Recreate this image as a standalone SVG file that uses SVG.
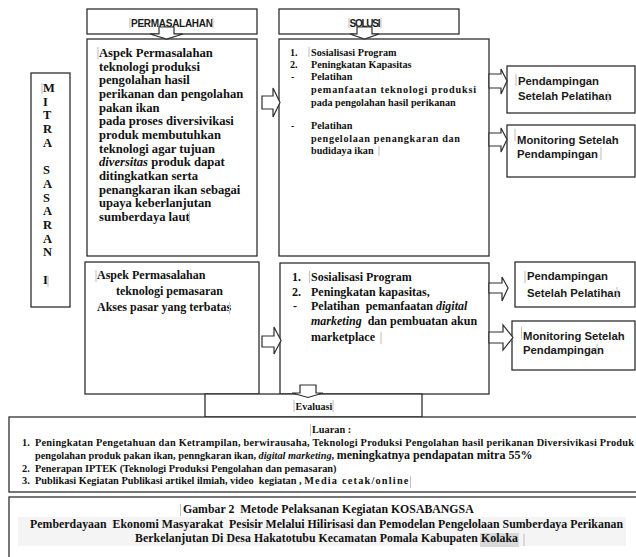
<svg xmlns="http://www.w3.org/2000/svg" width="636" height="557" viewBox="0 0 636 557">
<style>
.box{fill:#fff;stroke:#2e2e2e;stroke-width:1.3}
.arr{fill:#fff;stroke:#2e2e2e;stroke-width:1.2;stroke-linejoin:miter}
.sf{font-family:"Liberation Serif","Times New Roman",serif;font-weight:bold;fill:#111;white-space:pre}
.ss{font-family:"Liberation Sans",Arial,sans-serif;font-weight:bold;fill:#1a1a1a;white-space:pre}
.mk{stroke:#c4c4c4;stroke-width:1.1}
.it{font-style:italic}
</style>
<rect width="636" height="557" fill="#fff"/>

<g id="header-permasalahan">
<rect class="box" x="87" y="9" width="170" height="25"/>
<text class="ss" x="131" y="27" font-size="10" textLength="82">PERMASALAHAN</text>
</g>
<g id="header-solusi">
<rect class="box" x="279" y="9" width="180" height="25"/>
<text class="ss" x="349.5" y="27" font-size="10" textLength="31">SOLUSI</text>
</g>

<g id="mitra-sasaran">
<rect class="box" x="31" y="73" width="39" height="234"/>
<text class="sf" font-size="12.5">
<tspan x="43" y="92">M</tspan><tspan x="43" y="105.7">I</tspan><tspan x="43" y="119.4">T</tspan><tspan x="43" y="133.1">R</tspan><tspan x="43" y="146.8">A</tspan><tspan x="43" y="174.2">S</tspan><tspan x="43" y="187.9">A</tspan><tspan x="43" y="201.6">S</tspan><tspan x="43" y="215.3">A</tspan><tspan x="43" y="229">R</tspan><tspan x="43" y="242.7">A</tspan><tspan x="43" y="256.4">N</tspan><tspan x="43" y="283.8">I</tspan>
</text>
</g>

<g id="masalah-1">
<rect class="box" x="87" y="39" width="170" height="217"/>
<text class="sf" font-size="12.6">
<tspan x="99" y="57">Aspek Permasalahan</tspan>
<tspan x="99" y="70.7">teknologi produksi</tspan>
<tspan x="99" y="84.3">pengolahan hasil</tspan>
<tspan x="99" y="98">perikanan dan pengolahan</tspan>
<tspan x="99" y="111.7">pakan ikan</tspan>
<tspan x="99" y="125.3">pada proses diversivikasi</tspan>
<tspan x="99" y="139">produk membutuhkan</tspan>
<tspan x="99" y="152.7">teknologi agar tujuan</tspan>
<tspan x="99" y="166.3"><tspan class="it">diversitas</tspan> produk dapat</tspan>
<tspan x="99" y="180">ditingkatkan serta</tspan>
<tspan x="99" y="193.7">penangkaran ikan sebagai</tspan>
<tspan x="99" y="207.3">upaya keberlanjutan</tspan>
<tspan x="99" y="221">sumberdaya laut</tspan>
</text>
</g>

<g id="masalah-2">
<rect class="box" x="85" y="262" width="174" height="132"/>
<text class="sf" font-size="12">
<tspan x="97" y="279">Aspek Permasalahan</tspan>
<tspan x="116" y="295">teknologi pemasaran</tspan>
<tspan x="97" y="311">Akses pasar yang terbatas</tspan>
</text>
</g>

<g id="solusi-1">
<rect class="box" x="279" y="39" width="210" height="217"/>
<text class="sf" font-size="10.2">
<tspan x="290" y="56">1.</tspan><tspan x="311" y="56">Sosialisasi Program</tspan>
<tspan x="290" y="68">2.</tspan><tspan x="311" y="68">Peningkatan Kapasitas</tspan>
<tspan x="291" y="80">-</tspan><tspan x="311" y="80">Pelatihan</tspan>
<tspan x="311" y="92.5" textLength="165">pemanfaatan teknologi produksi</tspan>
<tspan x="311" y="105.5">pada pengolahan hasil perikanan</tspan>
<tspan x="291" y="129">-</tspan><tspan x="311" y="129">Pelatihan</tspan>
<tspan x="311" y="141.5" textLength="149">pengelolaan penangkaran dan</tspan>
<tspan x="311" y="154">budidaya ikan</tspan>
</text>
</g>

<g id="solusi-2">
<rect class="box" x="280" y="263" width="209" height="131"/>
<text class="sf" font-size="12">
<tspan x="292" y="281">1.</tspan><tspan x="311" y="281">Sosialisasi Program</tspan>
<tspan x="292" y="295.5">2.</tspan><tspan x="311" y="295.5">Peningkatan kapasitas,</tspan>
<tspan x="293" y="309.5">-</tspan><tspan x="311" y="309.5">Pelatihan  pemanfaatan <tspan class="it">digital</tspan></tspan>
<tspan x="311" y="324.5"><tspan class="it">marketing</tspan>  dan pembuatan akun</tspan>
<tspan x="311" y="341">marketplace</tspan>
</text>
</g>

<g id="pendampingan-1">
<rect class="box" x="507" y="66" width="128" height="47"/>
<text class="ss" font-size="11.3"><tspan x="518" y="85">Pendampingan</tspan><tspan x="518" y="99.5">Setelah Pelatihan</tspan></text>
</g>
<g id="monitoring-1">
<rect class="box" x="507" y="125" width="128" height="52"/>
<text class="ss" font-size="11.3"><tspan x="517" y="143.5">Monitoring Setelah</tspan><tspan x="517" y="158">Pendampingan</tspan></text>
</g>
<g id="pendampingan-2">
<rect class="box" x="515" y="262" width="120" height="45"/>
<text class="ss" font-size="11.3"><tspan x="527" y="280">Pendampingan</tspan><tspan x="527" y="296.5">Setelah Pelatihan</tspan></text>
</g>
<g id="monitoring-2">
<rect class="box" x="512" y="321" width="123" height="49"/>
<text class="ss" font-size="11.3"><tspan x="523" y="339.5">Monitoring Setelah</tspan><tspan x="523" y="354">Pendampingan</tspan></text>
</g>

<g id="evaluasi">
<rect class="box" x="205" y="394" width="217" height="23"/>
<text class="sf" x="295.5" y="410" font-size="10">Evaluasi</text>
</g>

<g id="luaran">
<rect class="box" x="9" y="417" width="640" height="75"/>
<text class="sf" x="312" y="433" font-size="10.3">Luaran :</text>
<text class="sf" font-size="10.3">
<tspan x="22" y="446">1.</tspan><tspan x="35" y="446" textLength="599">Peningkatan Pengetahuan dan Ketrampilan, berwirausaha, Teknologi Produksi Pengolahan hasil perikanan Diversivikasi Produk</tspan>
<tspan x="35" y="459">pengolahan produk pakan ikan, penngkaran ikan, <tspan class="it">digital marketing</tspan>, <tspan font-size="12">meningkatnya pendapatan mitra 55%</tspan></tspan>
<tspan x="22" y="472">2.</tspan><tspan x="35" y="472">Penerapan IPTEK (Teknologi Produksi Pengolahan dan pemasaran)</tspan>
<tspan x="22" y="484">3.</tspan><tspan x="35" y="484">Publikasi Kegiatan Publikasi artikel ilmiah, video  kegiatan , <tspan letter-spacing="1.2">Media cetak/online</tspan></tspan>
</text>
</g>

<g id="caption">
<rect class="box" x="9" y="497" width="640" height="70"/>
<rect x="18" y="517" width="608" height="29" fill="#f4f4f4"/>
<rect x="480" y="533" width="39" height="14" fill="#d9d9d9"/>
<text class="sf" font-size="11.8">
<tspan x="183" y="513" textLength="290">Gambar 2  Metode Pelaksanan Kegiatan KOSABANGSA</tspan>
<tspan x="30" y="527.5" textLength="593">Pemberdayaan  Ekonomi Masyarakat  Pesisir Melalui Hilirisasi dan Pemodelan Pengelolaan Sumberdaya Perikanan</tspan>
<tspan x="135" y="542" textLength="383">Berkelanjutan Di Desa Hakatotubu Kecamatan Pomala Kabupaten Kolaka</tspan>
</text>
</g>

<g id="connectors">
<path class="arr" d="M159,27 H174 V34 H183 L166.5,39 L150,34 H159 Z"/>
<path class="arr" d="M357,27 H372 V34 H379 L364.5,39 L350,34 H357 Z"/>
<path class="arr" d="M262,96 H273 V88 L280,102.5 L273,117 V109 H262 Z"/>
<path class="arr" d="M262,336 H274 V327 L281,340.5 L274,354 V347 H262 Z"/>
<path class="arr" d="M489,74 H501 V69 L507,81 L501,94 V88 H489 Z"/>
<path class="arr" d="M489,133 H501 V128 L507,139.5 L501,152 V146 H489 Z"/>
<path class="arr" d="M489,283 H502 V277 L508,288 L502,301 V293 H489 Z"/>
<path class="arr" d="M489,332 H503 V325 L513,337.5 L503,350 V343 H489 Z"/>
<path class="arr" d="M300,385 H316 V393 H323 L308,397.5 L292,393 H300 Z"/>
</g>

<g id="marks">
<path class="mk" d="M130,18V28M213,18V28M349,18V28M381,18V28M42,83V94M48,276V287M98,47V59M189.5,211V223M309,47V57M379,146V156M516,74V86M608,91V102M515,129V141M601,147V160M96,270V282M229.5,302V314M309.5,271V283M381,332V344M525,271V283M617,287V299M521.5,327V339M597,344V356M294,400V412M333,400V412M310.5,424V436M410.5,476V488M180.5,504V516M524,534V546"/>
</g>
</svg>
